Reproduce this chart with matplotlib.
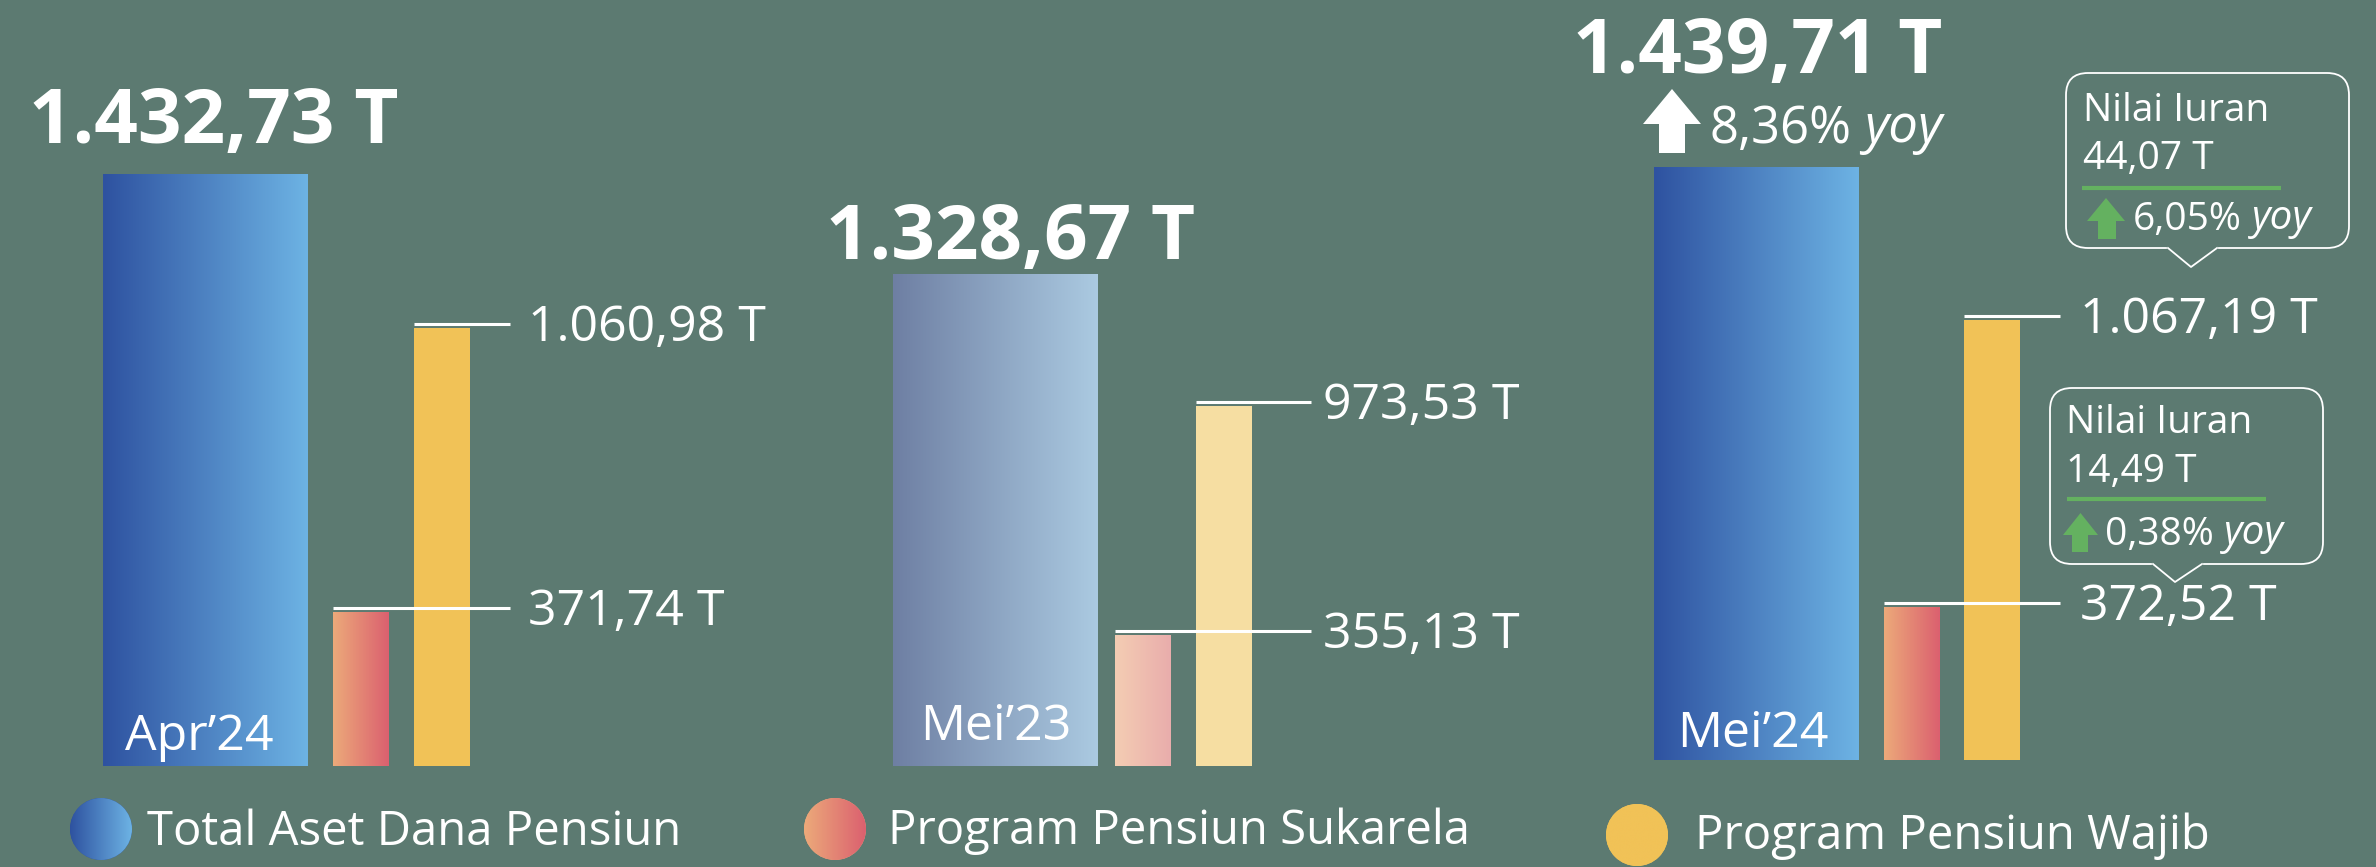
import numpy as np
import matplotlib
matplotlib.use("Agg")
import matplotlib.pyplot as plt
import matplotlib.transforms as mtransforms
from matplotlib.patches import FancyBboxPatch, Polygon, Circle
from matplotlib.colors import to_rgb

# ---------------- data ----------------
periods = ["Apr’24", "Mei’23", "Mei’24"]
total_aset = [1432.73, 1328.67, 1439.71]
pensiun_sukarela = [371.74, 355.13, 372.52]
pensiun_wajib = [1060.98, 973.53, 1067.19]
series_names = ["Total Aset Dana Pensiun", "Program Pensiun Sukarela", "Program Pensiun Wajib"]
total_yoy_pct = 8.36
iuran_title = "Nilai Iuran"
iuran_values = [44.07, 14.49]      # wajib, sukarela (Mei'24)
iuran_yoy_pct = [6.05, 0.38]
unit = "T"


def fmt_id(v):
    s = f"{v:,.2f}"
    return s.replace(",", "X").replace(".", ",").replace("X", ".")


# ---------------- style ----------------
plt.rcParams["font.family"] = ["Open Sans", "DejaVu Sans"]
BG = "#5C7A71"
WHITE = "#FFFFFF"
GREEN = "#64B160"
BLUE = ("#2E52A0", "#6DB3E4")
BLUE_FADED = ("#6E7FA3", "#ABCAE1")
PINK = ("#ECAA7A", "#DB606F")
PINK_FADED = ("#F4CDB3", "#E9ADAC")
YELLOW = ("#F1C257", "#F1C257")
YELLOW_FADED = ("#F6DEA2", "#F6DEA2")
group_colors = [
    [BLUE, PINK, YELLOW],
    [BLUE_FADED, PINK_FADED, YELLOW_FADED],
    [BLUE, PINK, YELLOW],
]

W, H = 2376, 867
fig = plt.figure(figsize=(W / 100, H / 100), dpi=100)
fig.patch.set_facecolor(BG)


def grad_img(c0, c1, n=256):
    a = np.array(to_rgb(c0))
    b = np.array(to_rgb(c1))
    t = np.linspace(0, 1, n)[None, :, None]
    return a + (b - a) * t


# layout (pixels)
group_left = [103, 893, 1654]
group_base = [766, 766, 760]
group_scale = [0.413, 0.37, 0.412]        # px per T
bar_offsets = [[0, 230, 311], [0, 222, 303], [0, 230, 310]]
bar_widths = [205, 56, 56]
line_end = [407, 418, 406]
label_gap = [18, 12, 20]
GW = 720

for g in range(3):
    base = group_base[g]
    sc = group_scale[g]
    ax = fig.add_axes([group_left[g] / W, 0, GW / W, 1])
    ax.set_facecolor("none")
    ax.axis("off")
    vals = [total_aset[g], pensiun_sukarela[g], pensiun_wajib[g]]
    bars = ax.bar(bar_offsets[g], vals, width=bar_widths, align="edge",
                  color=[c[0] for c in group_colors[g]], linewidth=0, zorder=2)
    for bar, (c0, c1) in zip(bars, group_colors[g]):
        if c0 != c1:
            x0 = bar.get_x()
            im = ax.imshow(grad_img(c0, c1), extent=[x0, x0 + bar.get_width(), 0, bar.get_height()],
                           aspect="auto", interpolation="bilinear", zorder=3)
            im.set_clip_path(bar)
    up = mtransforms.offset_copy(ax.transData, fig=fig, x=0, y=4, units="dots")
    for bar, v in zip(bars[1:], vals[1:]):
        ax.plot([bar.get_x(), line_end[g]], [v, v], color=WHITE, lw=2.2,
                transform=up, zorder=5, solid_capstyle="butt")
        ax.annotate(f"{fmt_id(v)} {unit}", xy=(line_end[g], v), xycoords="data",
                    xytext=(label_gap[g], 4 - 17), textcoords="offset pixels",
                    ha="left", va="baseline", fontsize=36, color=WHITE, zorder=6)
    ax.set_xlim(0, GW)
    ax.set_ylim(-(H - base) / sc, base / sc)

# ---------------- overlay canvas (pixel coords) ----------------
cv = fig.add_axes([0, 0, 1, 1])
cv.set_facecolor("none")
cv.axis("off")
cv.set_zorder(10)

title_cx = [214, 1011, 1758]
title_base = [143, 259, 73]
period_x = [125, 920, 1677]
period_base = [750, 740, 747]
for g in range(3):
    cv.text(title_cx[g], title_base[g], f"{fmt_id(total_aset[g])} {unit}", ha="center",
            va="baseline", fontsize=55, fontweight="bold", color=WHITE)
    cv.text(period_x[g], period_base[g], periods[g], ha="left", va="baseline",
            fontsize=36, color=WHITE)


def up_arrow(x0, x1, ytip, yhead, ybot, sl, sr, color):
    xc = (x0 + x1) / 2
    pts = [(x0, yhead), (xc, ytip), (x1, yhead), (sr, yhead), (sr, ybot), (sl, ybot), (sl, yhead)]
    cv.add_patch(Polygon(pts, closed=True, facecolor=color, edgecolor="none", zorder=6))


def pct_yoy(x, y, pct, size):
    t1 = cv.text(x, y, f"{fmt_id(pct)}%", ha="left", va="baseline", fontsize=size, color=WHITE)
    cv.annotate("yoy", xy=(1, 0), xycoords=t1, xytext=(size * 0.36, 0),
                textcoords="offset pixels", ha="left", va="bottom",
                fontsize=size * 1.04, fontstyle="italic", color=WHITE)


# total yoy for Mei'24
up_arrow(1643, 1701, 89, 124, 153, 1659, 1685, WHITE)
pct_yoy(1709, 143, total_yoy_pct, 36.5)

# callout boxes
boxes = [
    dict(x=2066, y=73, w=283, h=175, tip=(2191, 267), base=(2168, 2217),
         tx=2083, b1=121, b2=169, gl=(2082, 2281, 188),
         arrow=(2087, 2125, 198, 221, 239, 2098, 2116), px=2133, pb=230),
    dict(x=2050, y=388, w=273, h=176, tip=(2175, 582), base=(2153, 2202),
         tx=2066, b1=433, b2=482, gl=(2067, 2266, 499),
         arrow=(2063, 2098, 513, 535, 552, 2072, 2088), px=2105, pb=545),
]
for b, val, pct in zip(boxes, iuran_values, iuran_yoy_pct):
    cv.add_patch(FancyBboxPatch((b["x"], b["y"]), b["w"], b["h"],
                                boxstyle="round,pad=0,rounding_size=22",
                                facecolor="none", edgecolor=WHITE, lw=1.3, zorder=4))
    ybot = b["y"] + b["h"]
    cv.plot([b["base"][0] + 1, b["base"][1] - 1], [ybot, ybot], color=BG, lw=3, zorder=5)
    cv.plot([b["base"][0], b["tip"][0], b["base"][1]], [ybot, b["tip"][1], ybot],
            color=WHITE, lw=1.3, zorder=6)
    cv.text(b["tx"], b["b1"], iuran_title, ha="left", va="baseline", fontsize=28, color=WHITE)
    cv.text(b["tx"], b["b2"], f"{fmt_id(val)} {unit}", ha="left", va="baseline",
            fontsize=28, color=WHITE)
    cv.plot([b["gl"][0], b["gl"][1]], [b["gl"][2], b["gl"][2]], color=GREEN, lw=3,
            solid_capstyle="butt", zorder=6)
    up_arrow(*b["arrow"], GREEN)
    pct_yoy(b["px"], b["pb"], pct, 28)

# legend
leg_centers = [(101, 829), (835, 829), (1637, 835)]
leg_text_x = [147, 888, 1695]
leg_text_base = [845, 844, 849]
leg_colors = [BLUE, PINK, YELLOW]
R = 31
for (cx, cy), tx, tb, name, (c0, c1) in zip(leg_centers, leg_text_x, leg_text_base,
                                           series_names, leg_colors):
    circ = Circle((cx, cy), R, facecolor=c0, edgecolor="none", zorder=4)
    cv.add_patch(circ)
    im = cv.imshow(grad_img(c0, c1), extent=[cx - R, cx + R, cy + R, cy - R],
                   aspect="auto", interpolation="bilinear", zorder=5)
    im.set_clip_path(circ)
    cv.text(tx, tb, name, ha="left", va="baseline", fontsize=34, color=WHITE)

cv.set_xlim(0, W)
cv.set_ylim(H, 0)

fig.savefig("out.png", dpi=100, facecolor=BG)
